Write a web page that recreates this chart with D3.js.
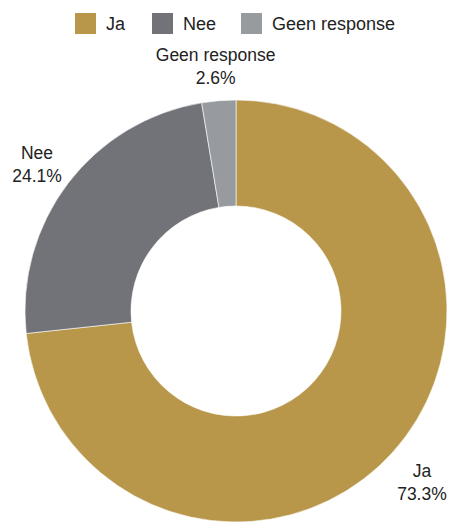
<!DOCTYPE html>
<html><head><meta charset="utf-8">
<script src="https://cdn.jsdelivr.net/npm/d3@7"></script>
<style>html,body{margin:0;padding:0;background:#fff;}svg{display:block;font-family:"Liberation Sans",Arial,sans-serif;}</style>
</head><body>
<svg id="chart" width="451" height="522"></svg>
<script>
const categories = ["Ja", "Nee", "Geen response"];
const values = [73.3, 24.1, 2.6];
const colors = ["#b8964a", "#727378", "#979b9f"];

const W = 451, H = 522;
const cx = 236, cy = 311, outerR = 211, innerR = 105, labelR = 250;
const svg = d3.select("#chart");

const data = categories.map((c, i) => ({cat: c, value: values[i], color: colors[i]}));
const pie = d3.pie().value(d => d.value).sort(null);
const arcs = pie(data);
const arc = d3.arc().innerRadius(innerR).outerRadius(outerR);
const labelArc = d3.arc().innerRadius(labelR).outerRadius(labelR);

const g = svg.append("g").attr("transform", `translate(${cx},${cy})`);
g.selectAll("path").data(arcs).join("path")
  .attr("d", arc).attr("fill", d => d.data.color)
  .attr("stroke", "#fff").attr("stroke-width", 0.6);

const lab = g.selectAll("g.lab").data(arcs).join("g").attr("class", "lab")
  .attr("transform", d => `translate(${labelArc.centroid(d)})`);
lab.append("text").attr("text-anchor", "middle").attr("y", -1)
  .attr("font-size", 17.5).attr("fill", "#222").text(d => d.data.cat);
lab.append("text").attr("text-anchor", "middle").attr("y", 22)
  .attr("font-size", 17.5).attr("fill", "#222").text(d => d3.format(".1f")(d.data.value) + "%");

// legend
const legendX = [75, 152, 241];
const leg = svg.append("g");
data.forEach((d, i) => {
  leg.append("rect").attr("x", legendX[i]).attr("y", 13).attr("width", 21).attr("height", 21)
    .attr("fill", d.color);
  leg.append("text").attr("x", legendX[i] + 31).attr("y", 29.5)
    .attr("font-size", 18).attr("fill", "#222").text(d.cat);
});
</script>
</body></html>
